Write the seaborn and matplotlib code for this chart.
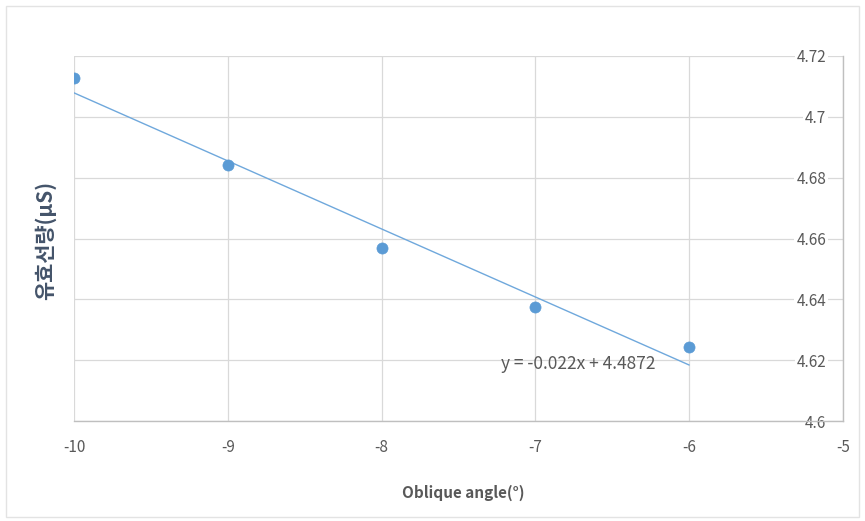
import matplotlib
matplotlib.use("Agg")
import matplotlib.pyplot as plt
import seaborn as sns
import numpy as np
import pandas as pd
from matplotlib.patches import Rectangle

# Data
angles = [-10, -9, -8, -7, -6]
dose = [4.7128, 4.6842, 4.6569, 4.6375, 4.6243]
x_ticks = [-10, -9, -8, -7, -6, -5]
y_ticks = [4.6, 4.62, 4.64, 4.66, 4.68, 4.7, 4.72]
y_tick_labels = ["4.6", "4.62", "4.64", "4.66", "4.68", "4.7", "4.72"]
equation = "y = -0.022x + 4.4872"
x_label = "Oblique angle(°)"
y_label = "유효선량(μS)"

df = pd.DataFrame({"angle": angles, "dose": dose})

sns.set_theme(style="white")
plt.rcParams['font.family'] = ['Noto Sans CJK KR', 'DejaVu Sans']

fig = plt.figure(figsize=(8.65, 5.21), dpi=100)
ax = fig.add_axes([74/865, 1-421/521, (843-74)/865, (421-56)/521])

blue = "#5b9bd5"
grid_c = "#d9d9d9"
text_c = "#595959"

# Trendline (linear fit) over the data range
sns.regplot(data=df, x="angle", y="dose", ax=ax, ci=None, scatter=False,
            line_kws=dict(color="#6fa8dc", lw=1.0, zorder=2), truncate=True)
sns.scatterplot(data=df, x="angle", y="dose", ax=ax, color=blue, s=64,
                edgecolor=blue, linewidth=0.5, zorder=4)

ax.set_xlim(-10, -5)
ax.set_ylim(4.6, 4.72)
ax.set_xticks(x_ticks)
ax.set_xticklabels([str(t) for t in x_ticks])
ax.set_yticks(y_ticks)
ax.set_yticklabels(y_tick_labels)

ax.grid(True, color=grid_c, lw=0.9, zorder=0)
ax.set_axisbelow(True)
for s in ["top", "left"]:
    ax.spines[s].set_visible(False)
for s in ["bottom", "right"]:
    ax.spines[s].set_color("#bfbfbf")
    ax.spines[s].set_linewidth(1.0)

ax.yaxis.tick_right()
ax.tick_params(axis="y", length=0, pad=-12, labelsize=11, labelcolor=text_c)
for lbl in ax.get_yticklabels():
    lbl.set_horizontalalignment("right")
    lbl.set_bbox(dict(facecolor="white", edgecolor="none", pad=1.5))
ax.tick_params(axis="x", length=0, pad=13, labelsize=11, labelcolor=text_c)

ax.set_xlabel("")
ax.set_ylabel("")
fig.text(463/865, 1-493/521, x_label, ha="center", va="center",
         fontsize=11, fontweight="bold", color=text_c)
fig.text(45/865, 1-240/521, y_label, ha="center", va="center", rotation=90,
         fontsize=15, fontweight="bold", color="#44546a")

ax.text(-6.72, 4.6187, equation, ha="center", va="center", fontsize=12.5,
        color=text_c, zorder=5)

fig.patches.append(Rectangle((6/865, 4/521), 1-12/865, 1-10/521,
                             transform=fig.transFigure, fill=False,
                             edgecolor="#e3e3e3", lw=1.0))

fig.savefig("out.png", dpi=100)
